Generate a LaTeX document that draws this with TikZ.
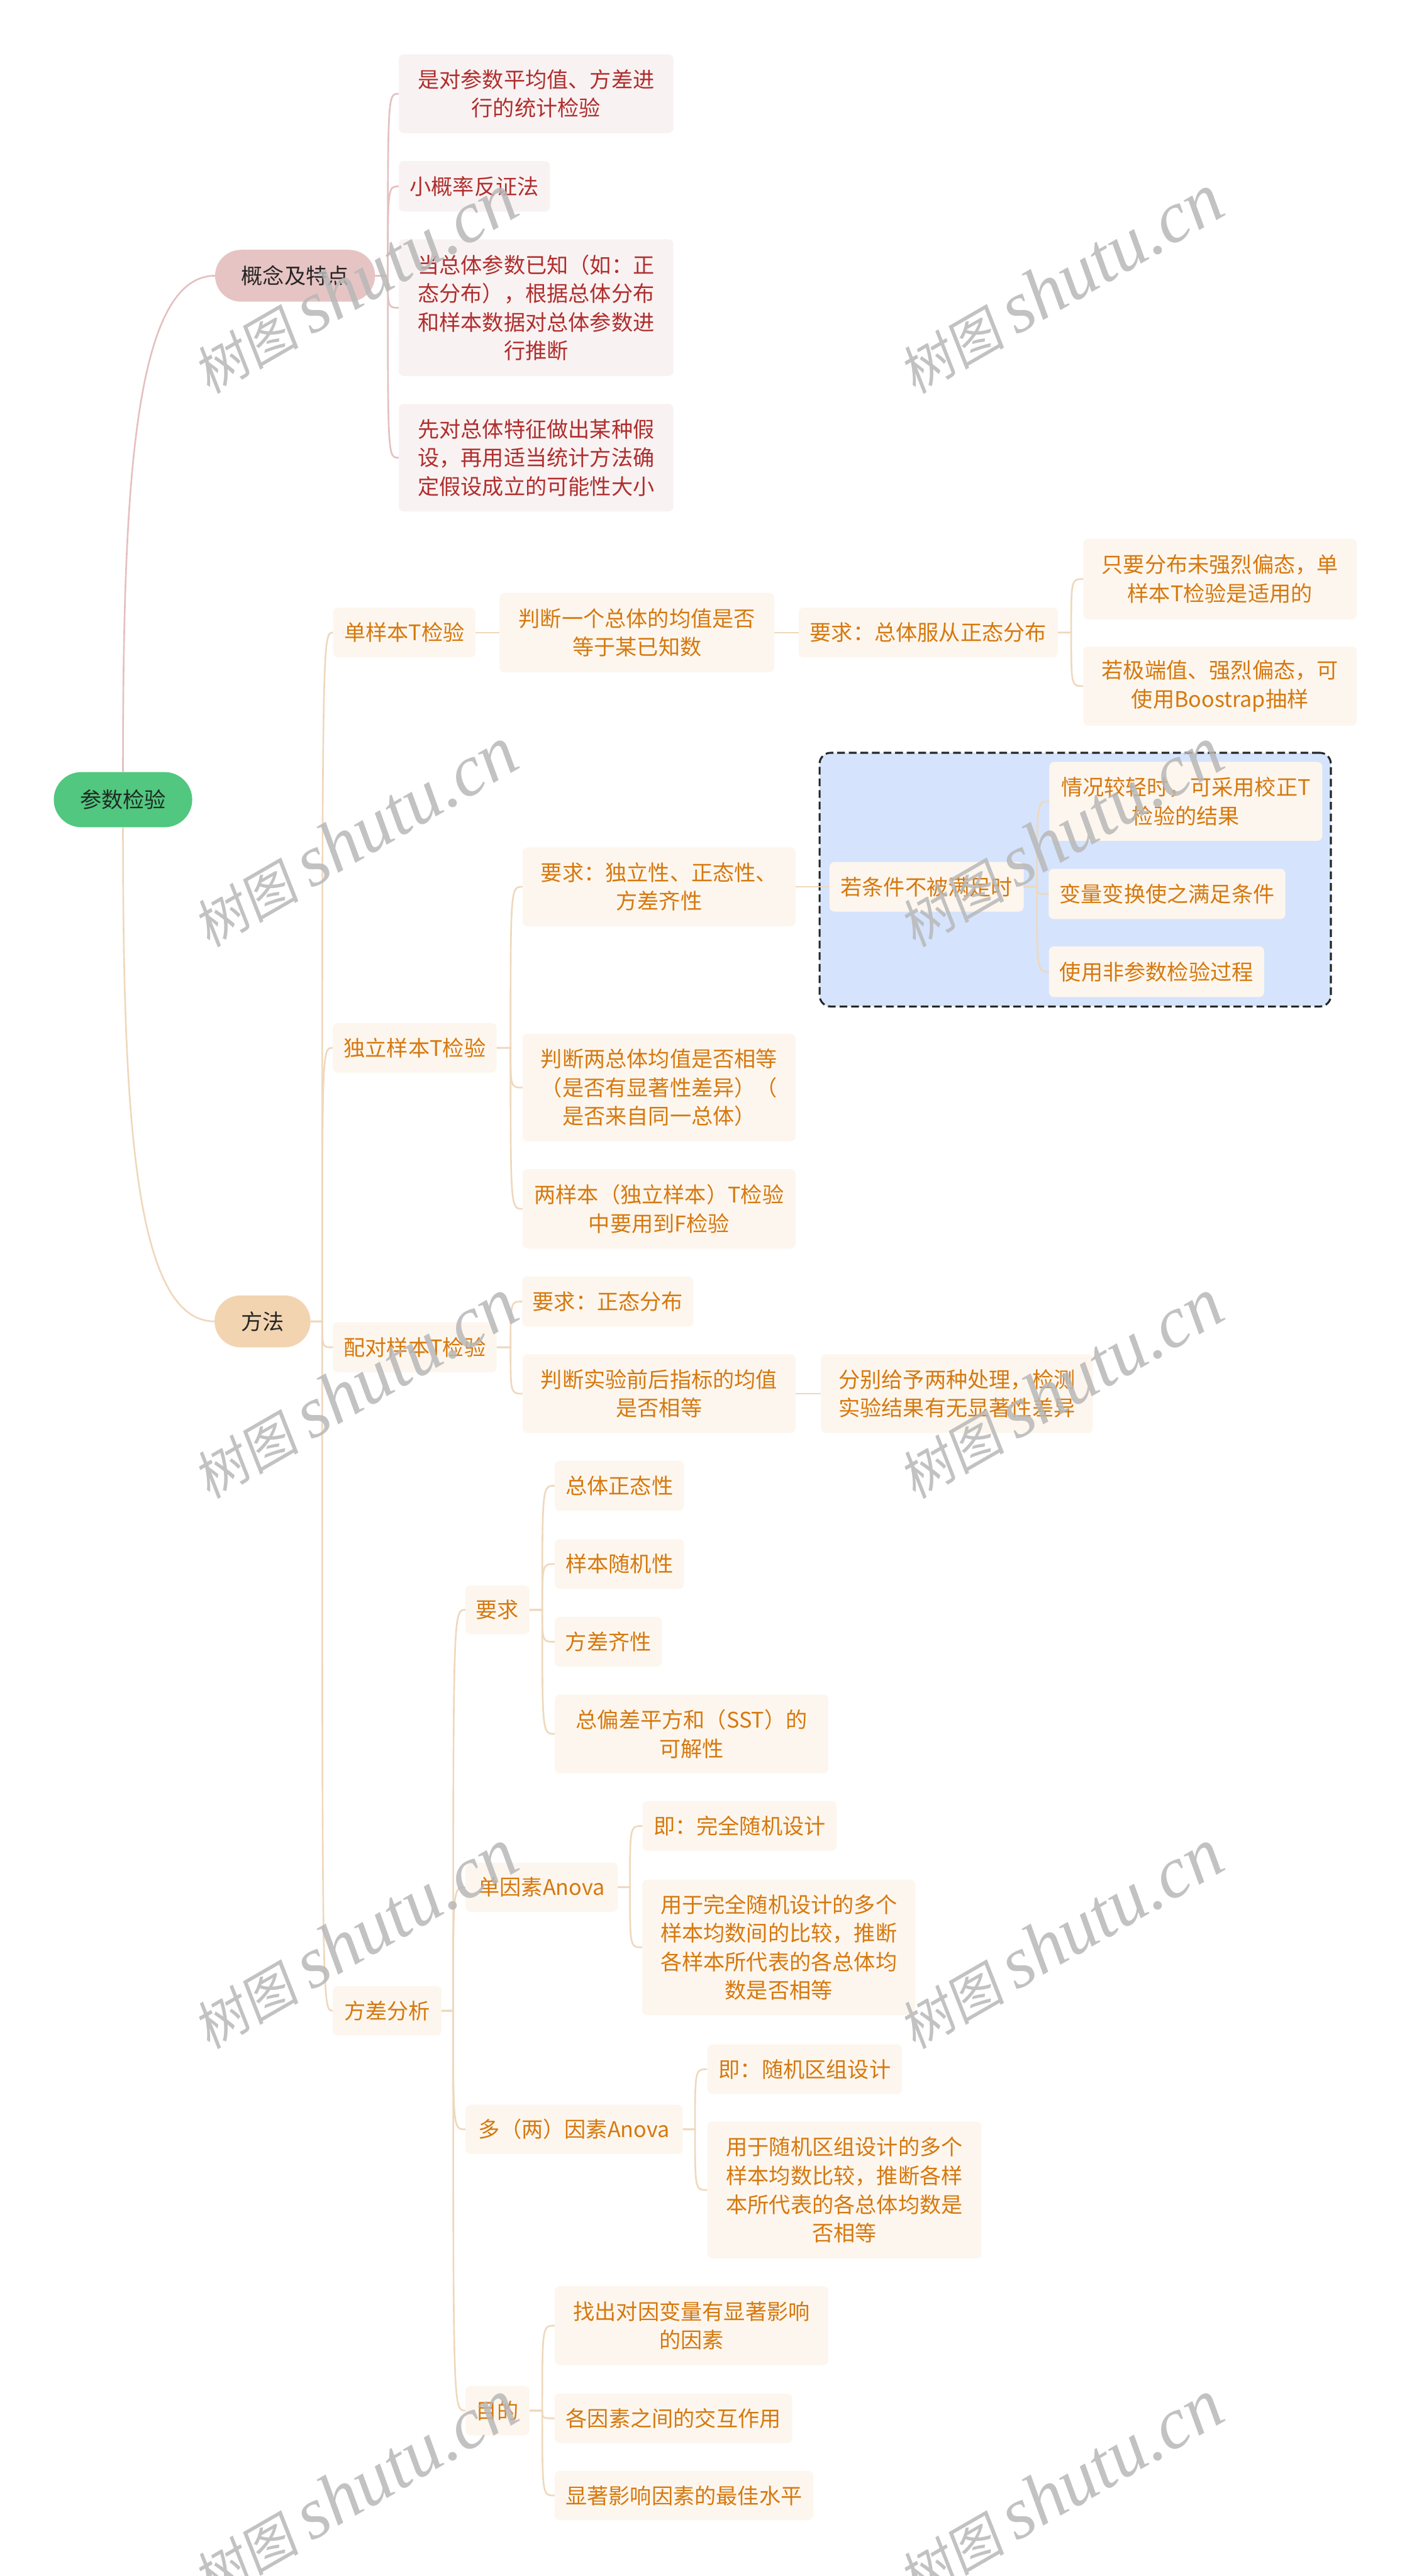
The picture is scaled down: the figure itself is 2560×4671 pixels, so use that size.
\documentclass[tikz,border=0pt]{standalone}
\usepackage{fontspec}
\setmainfont{Noto Sans CJK SC}
\newfontfamily\wmlat{Liberation Serif}
\newfontfamily\wmcjk[FakeSlant=0.15]{Noto Sans CJK SC}
\definecolor{rootg}{HTML}{52C77F}
\definecolor{roottx}{HTML}{1E2B23}
\definecolor{pinkLa}{HTML}{E7C4C4}
\definecolor{peachLa}{HTML}{F2D4B1}
\definecolor{pinkbg}{HTML}{F9F2F2}
\definecolor{pinktx}{HTML}{B02E2E}
\definecolor{orbg}{HTML}{FDF6EE}
\definecolor{ortx}{HTML}{D5790F}
\definecolor{pinkln}{HTML}{E5C0C0}
\definecolor{orln}{HTML}{EFD8BC}
\definecolor{bluebg}{HTML}{D5E4FC}
\definecolor{wmgray}{HTML}{B8B8B8}
\tikzset{
  base/.style={inner sep=0pt, align=center, font=\fontsize{39}{52}\selectfont},
  pk/.style={base, fill=pinkbg, text=pinktx, rounded corners=9pt},
  og/.style={base, fill=orbg, text=ortx, rounded corners=9pt},
  pln/.style={draw=pinkln, line width=3pt},
  oln/.style={draw=orln, line width=3pt},
  bluebox/.style={draw=black!85, fill=bluebg, line width=3.5pt, dash pattern=on 14pt off 7pt, rounded corners=20pt, inner sep=0pt},
  wm/.style={rotate=30, text=wmgray, opacity=0.85, inner sep=0pt},
}
\newcommand\bx[7]{\node[#2, minimum width=#5pt, minimum height=#6pt] (#1) at (#3,#4) {#7};}
\newcommand\cv[4]{\draw[#1] (#2.east) -- ++(#4,0) coordinate (jn) .. controls (jn |- #3.west) .. (#3.west);}
\newcommand\wmtext{{\wmcjk\fontsize{96}{96}\selectfont 树图}\hspace{22pt}{\wmlat\itshape\fontsize{132}{132}\selectfont shutu.cn}}
\begin{document}
\begin{tikzpicture}[x=1pt,y=-1pt]
\useasboundingbox (0,0) rectangle (2560,4671);
\fill[white] (0,0) rectangle (2560,4671);

% level 0 and 1
\node[base, fill=rootg, text=roottx, rounded corners=50pt, minimum width=251pt, minimum height=100pt] (root) at (223,1450) {参数检验};
\node[base, fill=pinkLa, text=black!85, rounded corners=47pt, minimum width=290pt, minimum height=94pt] (gn) at (535,500) {概念及特点};
\node[base, fill=peachLa, text=black!85, rounded corners=47pt, minimum width=174pt, minimum height=94pt] (ff) at (476,2396) {方法};
\draw[pln] (root.north) .. controls (223,900) and (240,500) .. (gn.west);
\draw[oln] (root.south) .. controls (223,2000) and (240,2396) .. (ff.west);

% concept children
\bx{G1}{pk}{972}{170}{498}{143}{是对参数平均值、方差进\\行的统计检验}
\bx{G2}{pk}{860}{338}{274}{92}{小概率反证法}
\bx{G3}{pk}{972}{558}{498}{248}{当总体参数已知（如：正\\态分布），根据总体分布\\和样本数据对总体参数进\\行推断}
\bx{G4}{pk}{972}{830}{498}{195}{先对总体特征做出某种假\\设，再用适当统计方法确\\定假设成立的可能性大小}
\cv{pln}{gn}{G1}{23}
\cv{pln}{gn}{G2}{23}
\cv{pln}{gn}{G3}{23}
\cv{pln}{gn}{G4}{23}

% one-sample t
\bx{A1}{og}{733}{1147}{258}{90}{单样本T检验}
\bx{A2}{og}{1155}{1147}{498}{144}{判断一个总体的均值是否\\等于某已知数}
\bx{A3}{og}{1683}{1147}{470}{90}{要求：总体服从正态分布}
\bx{A4}{og}{2212}{1050}{496}{146}{只要分布未强烈偏态，单\\样本T检验是适用的}
\bx{A5}{og}{2212}{1244}{496}{144}{若极端值、强烈偏态，可\\使用Boostrap抽样}
\draw[oln] (A1.east) -- (A2.west);
\draw[oln] (A2.east) -- (A3.west);
\cv{oln}{A3}{A4}{24}
\cv{oln}{A3}{A5}{24}

% independent t
\node[bluebox, minimum width=927pt, minimum height=460pt] (blue) at (1949.5,1595) {};
\bx{I0}{og}{752}{1900}{297}{90}{独立样本T检验}
\bx{R1}{og}{1195}{1608}{495}{143}{要求：独立性、正态性、\\方差齐性}
\bx{B1}{og}{1680}{1608}{352}{90}{若条件不被满足时}
\bx{B2}{og}{2150}{1453}{495}{143}{情况较轻时，可采用校正T\\检验的结果}
\bx{B3}{og}{2116}{1621}{429}{91}{变量变换使之满足条件}
\bx{B4}{og}{2097}{1762}{390}{92}{使用非参数检验过程}
\bx{I2}{og}{1195}{1972}{495}{195}{判断两总体均值是否相等\\（是否有显著性差异）（\\是否来自同一总体）}
\bx{I3}{og}{1195}{2192}{495}{144}{两样本（独立样本）T检验\\中要用到F检验}
\draw[oln] (R1.east) -- (B1.west);
\cv{oln}{B1}{B2}{24}
\cv{oln}{B1}{B3}{24}
\cv{oln}{B1}{B4}{24}
\cv{oln}{I0}{R1}{25}
\cv{oln}{I0}{I2}{25}
\cv{oln}{I0}{I3}{25}

% paired t
\bx{P0}{og}{752}{2443}{297}{91}{配对样本T检验}
\bx{Q1}{og}{1102}{2360}{310}{91}{要求：正态分布}
\bx{Q2}{og}{1195}{2527}{495}{143}{判断实验前后指标的均值\\是否相等}
\bx{Q3}{og}{1735}{2527}{493}{143}{分别给予两种处理，检测\\实验结果有无显著性差异}
\cv{oln}{P0}{Q1}{25}
\cv{oln}{P0}{Q2}{25}
\draw[oln] (Q2.east) -- (Q3.west);

% anova
\bx{V0}{og}{702}{3646}{197}{89}{方差分析}
\bx{V1}{og}{902}{2919}{116}{88}{要求}
\bx{V11}{og}{1123}{2694}{234}{91}{总体正态性}
\bx{V12}{og}{1123}{2836}{234}{90}{样本随机性}
\bx{V13}{og}{1103}{2977}{194}{90}{方差齐性}
\bx{V14}{og}{1254}{3144}{496}{143}{总偏差平方和（SST）的\\可解性}
\bx{V2}{og}{982}{3422}{276}{89}{单因素Anova}
\bx{V21}{og}{1341}{3311}{352}{90}{即：完全随机设计}
\bx{V22}{og}{1412}{3531}{495}{246}{用于完全随机设计的多个\\样本均数间的比较，推断\\各样本所代表的各总体均\\数是否相等}
\bx{V3}{og}{1041}{3861}{394}{89}{多（两）因素Anova}
\bx{V31}{og}{1459}{3752}{353}{90}{即：随机区组设计}
\bx{V32}{og}{1531}{3971}{497}{248}{用于随机区组设计的多个\\样本均数比较，推断各样\\本所代表的各总体均数是\\否相等}
\bx{V4}{og}{902}{4371}{116}{89}{目的}
\bx{V41}{og}{1254}{4217}{496}{143}{找出对因变量有显著影响\\的因素}
\bx{V42}{og}{1221}{4385}{431}{90}{各因素之间的交互作用}
\bx{V43}{og}{1240}{4525}{469}{89}{显著影响因素的最佳水平}
\cv{oln}{V0}{V1}{21}
\cv{oln}{V0}{V2}{21}
\cv{oln}{V0}{V3}{21}
\cv{oln}{V0}{V4}{21}
\cv{oln}{V1}{V11}{23}
\cv{oln}{V1}{V12}{23}
\cv{oln}{V1}{V13}{23}
\cv{oln}{V1}{V14}{23}
\cv{oln}{V2}{V21}{22}
\cv{oln}{V2}{V22}{22}
\cv{oln}{V3}{V31}{22}
\cv{oln}{V3}{V32}{22}
\cv{oln}{V4}{V41}{23}
\cv{oln}{V4}{V42}{23}
\cv{oln}{V4}{V43}{23}

% method children
\cv{oln}{ff}{A1}{21}
\cv{oln}{ff}{I0}{21}
\cv{oln}{ff}{P0}{21}
\cv{oln}{ff}{V0}{21}

% watermarks
\node[wm] (wa) at (643,515) {\wmtext};
\node[wm] (wb) at (1922,515) {\wmtext};
\node[wm] (wc) at (643,1518) {\wmtext};
\node[wm] (wd) at (1922,1518) {\wmtext};
\node[wm] (we) at (643,2518) {\wmtext};
\node[wm] (wf) at (1922,2518) {\wmtext};
\node[wm] (wg) at (643,3516) {\wmtext};
\node[wm] (wh) at (1922,3516) {\wmtext};
\node[wm] (wi) at (643,4515) {\wmtext};
\node[wm] (wj) at (1922,4515) {\wmtext};
\end{tikzpicture}
\end{document}
